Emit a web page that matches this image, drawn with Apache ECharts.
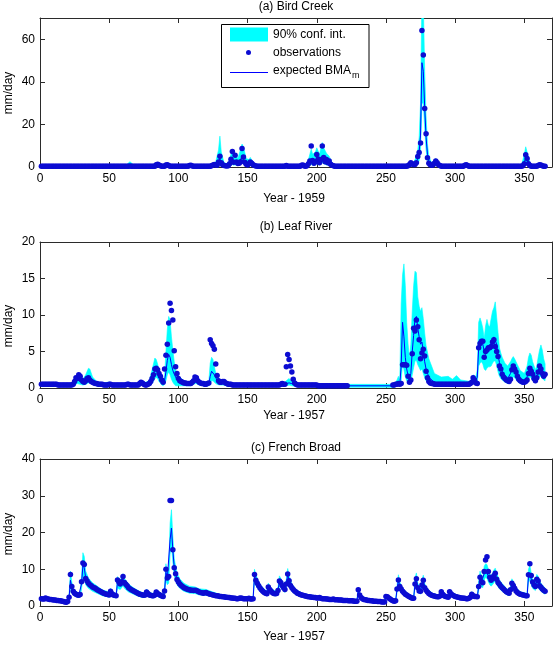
<!DOCTYPE html>
<html>
<head>
<meta charset="utf-8">
<title>BMA streamflow</title>
<script src="https://cdn.jsdelivr.net/npm/echarts/dist/echarts.min.js"></script>
<style>
  html, body { margin: 0; padding: 0; background: #fff; }
  #chart { width: 555px; height: 647px; }
</style>
</head>
<body>
<div id="chart"></div>
<script>
// daily observations, day 1..365 (mm/day)
var birdObs = [
  0.4,0.4,0.4,0.3,0.3,0.3,0.3,0.3,0.3,0.3,
  0.3,0.3,0.3,0.3,0.3,0.3,0.3,0.3,0.3,0.3,
  0.3,0.3,0.3,0.3,0.3,0.3,0.3,0.3,0.3,0.3,
  0.3,0.3,0.3,0.3,0.3,0.3,0.3,0.3,0.3,0.3,
  0.3,0.3,0.3,0.3,0.3,0.3,0.3,0.3,0.3,0.3,
  0.3,0.3,0.3,0.3,0.3,0.3,0.3,0.3,0.3,0.3,
  0.3,0.3,0.3,0.4,0.5,0.4,0.3,0.3,0.3,0.3,
  0.3,0.3,0.3,0.3,0.3,0.3,0.3,0.3,0.3,0.3,
  0.3,0.3,0.4,1.0,1.3,0.9,0.6,0.4,0.3,0.3,
  0.9,1.0,0.7,0.4,0.3,0.3,0.3,0.3,0.3,0.3,
  0.3,0.3,0.3,0.3,0.3,0.3,0.4,0.7,0.8,0.5,
  0.3,0.3,0.3,0.3,0.3,0.3,0.3,0.3,0.3,0.3,
  0.3,0.3,0.4,0.6,0.9,1.2,1.0,0.8,2.4,5.0,
  2.0,1.0,0.7,0.6,0.5,0.6,1.5,3.6,7.3,2.2,
  5.5,2.4,1.6,1.8,2.5,8.7,4.7,2.2,1.3,0.9,
  1.5,2.4,1.8,1.0,0.7,0.5,0.4,0.4,0.3,0.3,
  0.3,0.3,0.3,0.3,0.3,0.3,0.3,0.3,0.3,0.3,
  0.3,0.3,0.3,0.3,0.3,0.3,0.4,0.7,0.4,0.3,
  0.3,0.3,0.3,0.3,0.3,0.3,0.3,0.4,0.8,0.9,
  0.5,0.4,0.6,1.5,2.8,9.9,3.0,1.8,2.5,5.9,
  3.8,2.0,3.5,9.9,4.5,2.5,3.5,2.0,2.8,1.3,
  0.8,0.6,0.4,0.3,0.3,0.3,0.3,0.3,0.3,0.3,
  0.3,0.3,0.3,0.3,0.3,0.3,0.3,0.3,0.3,0.3,
  0.3,0.3,0.3,0.3,0.3,0.3,0.3,0.3,0.3,0.3,
  0.3,0.3,0.3,0.3,0.3,0.3,0.3,0.3,0.3,0.3,
  0.3,0.3,0.3,0.3,0.3,0.3,0.3,0.3,0.3,0.3,
  0.3,0.3,0.3,0.3,0.4,0.6,1.2,2.0,1.5,1.0,
  1.2,2.0,4.9,6.8,11.3,64.1,52.6,27.5,15.6,4.4,
  1.8,1.0,0.8,0.9,1.8,2.8,2.0,1.0,0.7,0.4,
  0.3,0.3,0.3,0.3,0.3,0.3,0.3,0.3,0.3,0.3,
  0.3,0.3,0.3,0.3,0.3,0.3,0.8,1.0,0.7,0.4,
  0.3,0.3,0.3,0.3,0.3,0.3,0.3,0.3,0.3,0.3,
  0.3,0.3,0.3,0.3,0.3,0.3,0.3,0.3,0.3,0.3,
  0.3,0.3,0.3,0.3,0.3,0.3,0.3,0.3,0.3,0.3,
  0.3,0.3,0.3,0.3,0.3,0.3,0.3,0.4,0.6,1.5,
  5.8,4.0,1.5,0.7,0.4,0.3,0.3,0.3,0.3,0.7,
  1.0,0.9,0.6,0.4,0.3
];

var leafObs = [
  0.5,0.5,0.5,0.5,0.5,0.5,0.5,0.5,0.5,0.5,
  0.5,0.5,0.4,0.4,0.4,0.4,0.4,0.4,0.4,0.4,
  0.4,0.4,0.4,0.5,0.9,1.4,1.3,1.8,1.6,1.1,
  0.9,0.8,1.0,1.3,1.4,1.1,0.9,0.8,0.7,0.6,
  0.6,0.5,0.5,0.5,0.5,0.4,0.4,0.4,0.4,0.5,
  0.5,0.4,0.4,0.4,0.4,0.4,0.4,0.4,0.4,0.4,
  0.4,0.4,0.5,0.5,0.4,0.4,0.4,0.4,0.4,0.4,
  0.4,0.6,0.8,0.7,0.5,0.4,0.4,0.5,0.6,0.9,
  1.3,1.8,2.6,2.7,2.5,2.0,1.6,1.1,0.8,2.6,
  4.5,6.0,8.9,11.6,10.6,9.3,5.1,2.9,2.0,1.3,
  1.0,0.9,0.8,0.7,0.7,0.6,0.6,0.6,0.6,0.8,
  1.0,1.5,1.4,1.0,0.8,0.7,0.6,0.6,0.5,0.5,
  0.6,0.7,6.6,6.1,5.8,5.3,3.3,1.7,1.0,0.8,
  0.8,0.9,0.9,0.7,0.6,0.5,0.5,0.5,0.4,0.4,
  0.4,0.4,0.4,0.4,0.4,0.4,0.4,0.4,0.4,0.4,
  0.4,0.4,0.4,0.4,0.4,0.4,0.4,0.4,0.4,0.4,
  0.4,0.4,0.4,0.4,0.4,0.4,0.4,0.4,0.4,0.4,
  0.4,0.4,0.4,0.5,0.6,0.5,0.5,2.9,4.6,3.9,
  3.0,2.2,1.2,0.7,0.5,0.4,0.4,0.4,0.4,0.4,
  0.4,0.4,0.4,0.4,0.4,0.4,0.4,0.4,0.4,0.4,
  0.3,0.3,0.3,0.3,0.3,0.3,0.3,0.3,0.3,0.3,
  0.3,0.3,0.3,0.3,0.3,0.3,0.3,0.3,0.3,0.3,
  0.3,0.3,null,null,null,null,null,null,null,null,
  null,null,null,null,null,null,null,null,null,null,
  null,null,null,null,null,null,null,null,null,null,
  null,null,null,null,0.4,0.4,0.5,0.5,0.6,0.5,
  0.6,3.2,3.2,3.2,3.1,1.6,0.8,1.1,4.7,8.2,
  7.8,9.3,8.4,6.6,4.0,4.8,5.3,4.4,2.3,1.4,
  0.9,0.7,0.6,0.6,0.5,0.5,0.5,0.5,0.5,0.5,
  0.5,0.5,0.5,0.5,0.5,0.5,0.5,0.5,0.5,0.5,
  0.5,0.5,0.5,0.5,0.5,0.5,0.5,0.5,0.5,0.5,
  0.6,0.8,1.4,1.1,0.7,0.6,5.5,6.1,6.4,6.4,
  4.2,5.0,5.2,5.5,5.5,5.7,6.3,6.6,5.7,5.0,
  4.3,3.0,2.6,1.9,1.5,1.3,1.1,1.0,0.9,1.2,
  2.5,3.0,2.6,2.2,1.6,1.2,1.0,0.9,0.8,0.8,
  0.9,1.1,2.0,2.7,2.3,1.9,1.3,1.0,1.4,2.2,
  3.0,2.6,2.0,1.6,1.9
];

var frenchObs = [
  2.0,1.9,1.9,2.2,2.0,1.9,1.8,1.8,1.7,1.6,
  1.6,1.5,1.5,1.4,1.4,1.3,1.2,1.1,1.0,1.2,
  2.4,8.6,5.3,4.0,3.5,3.2,3.0,2.9,3.1,6.6,
  11.7,11.3,7.5,6.8,6.2,5.8,5.5,5.2,5.0,4.8,
  4.5,4.3,4.1,3.9,3.7,3.5,3.3,3.2,3.1,3.0,
  4.0,3.3,3.0,2.9,2.8,7.1,6.5,6.0,6.6,8.0,
  6.4,5.9,5.5,5.0,4.7,4.4,4.2,4.0,3.8,3.6,
  3.4,3.2,3.1,3.0,2.9,3.0,3.8,3.4,3.0,2.9,
  2.8,2.8,3.0,3.8,3.4,3.1,2.9,2.7,2.6,4.1,
  10.0,7.6,8.0,28.7,28.7,15.3,10.4,8.8,7.2,6.5,
  6.0,5.6,5.3,5.0,4.8,4.6,4.5,4.4,4.3,4.3,
  4.2,4.3,4.2,4.0,3.8,3.7,3.6,3.5,3.6,3.7,
  3.5,3.3,3.2,3.1,3.0,2.9,2.8,2.8,2.7,2.6,
  2.6,2.5,2.5,2.4,2.4,2.3,2.3,2.2,2.2,2.1,
  2.1,2.0,2.0,2.1,2.2,2.1,2.0,2.0,2.0,2.0,
  2.1,1.9,1.9,2.0,8.6,7.0,6.2,5.5,4.9,4.4,
  4.0,3.7,3.5,3.3,5.2,4.5,4.0,3.6,3.4,3.3,
  3.4,4.2,6.8,6.4,5.6,5.0,4.5,6.0,8.7,6.9,
  5.6,5.0,4.5,4.1,3.8,3.5,3.3,3.1,3.0,2.9,
  2.8,2.7,2.6,2.5,2.5,2.4,2.4,2.3,2.3,2.2,
  2.2,2.3,2.1,2.0,2.0,2.0,1.9,1.9,1.8,1.8,
  1.8,1.9,1.7,1.7,1.7,1.6,1.6,1.6,1.5,1.5,
  1.5,1.5,1.4,1.4,1.4,1.4,1.3,1.3,1.3,4.4,
  3.0,2.3,2.0,1.8,1.7,1.6,1.5,1.5,1.4,1.4,
  1.3,1.3,1.3,1.2,1.2,1.2,1.1,1.1,1.1,2.6,
  2.5,2.2,1.9,1.6,1.4,1.3,1.4,4.6,7.1,5.3,
  4.6,4.0,3.6,3.2,3.0,2.7,2.5,2.3,2.1,2.1,
  6.0,7.4,5.0,4.1,4.0,5.7,7.0,5.0,4.3,3.8,
  3.4,3.1,2.9,2.8,2.7,2.6,2.5,2.5,2.7,3.9,
  3.2,2.8,2.6,2.5,2.4,3.9,3.3,3.0,2.8,2.6,
  2.5,2.4,2.3,2.2,2.2,2.1,2.1,2.0,2.0,2.1,
  2.4,3.2,2.8,2.6,2.6,2.5,5.3,7.8,6.6,6.3,
  9.4,12.5,13.4,9.4,7.8,7.0,7.5,8.2,8.9,7.3,
  6.4,5.9,5.4,5.0,4.6,4.2,3.9,3.7,3.5,4.4,
  6.2,5.6,4.8,4.1,3.7,3.4,3.2,3.1,3.0,2.9,
  2.8,2.8,8.5,11.5,8.3,6.5,5.7,5.3,7.3,6.8,
  5.5,5.1,4.6,4.3,4.0
];

// model rows: [day, lower 5%, expected BMA, upper 95%]
var birdModel = [
  [1,0,0.3,0.8],[62,0,0.3,0.8],[65,0.1,0.5,2.5],[68,0,0.3,0.8],[83,0,0.3,0.8],
  [85,0.3,1.0,2.0],[88,0,0.4,0.9],[125,0,0.4,1.0],[127,0.3,0.9,2.5],[129,0.8,2.5,8],
  [130,1.5,4.0,14.5],[131,0.8,2.0,7],[133,0.2,0.7,2],[136,0.2,0.6,1.5],[138,0.8,2.5,6],
  [139,1.2,3.5,7.5],[140,0.8,2.0,4.5],[141,1.0,2.8,6],[143,0.8,2.0,4],[145,1.5,3.5,8.5],
  [146,2.0,5.0,10.8],[147,1.5,3.5,9.5],[149,0.5,1.5,4],[151,0.6,1.8,3.5],[152,0.8,2.2,4.5],
  [154,0.3,1.0,2.0],[157,0,0.4,0.9],[193,0,0.4,0.9],[195,0.8,2.5,6],[196,1.2,3.5,8.5],
  [197,0.8,2.5,6],[199,1.0,3,7],[200,1.5,4,9],[202,1.0,2.8,6],[203,1.5,4,9],
  [204,2.0,5,11.5],[205,1.5,4,9],[207,1.0,2.8,6.5],[209,0.8,2.2,5],[211,0.2,0.8,2],
  [213,0,0.4,0.9],[266,0,0.4,0.9],[268,0.4,1.2,2.5],[270,0.3,0.9,2],[272,0.8,2.5,5],
  [273,1.5,4,8],[274,3,7,14],[275,8,15,30],[276,30,49,80],[277,30,45,78],
  [278,18,28,45],[279,8,14,24],[280,3,6,11],[281,1,2.5,5],[283,0.3,1,2],
  [285,0.5,1.5,3],[286,0.8,2.2,4],[288,0.2,0.7,1.5],[290,0,0.4,0.9],[348,0,0.4,0.9],
  [350,1,2.5,6],[351,1.5,4,9.5],[352,1.2,3,7],[354,0.2,0.8,2],[356,0,0.4,0.9],
  [365,0,0.4,0.9]
];

var leafModel = [
  [1,0.2,0.4,0.6],[23,0.2,0.4,0.6],[25,0.4,0.8,1.3],[27,0.6,1.1,1.7],[29,0.5,1.0,1.5],
  [31,0.4,0.8,1.2],[33,0.5,1.0,1.8],[35,0.7,1.3,2.7],[36,0.7,1.3,2.6],[38,0.5,0.9,1.5],
  [41,0.3,0.6,0.9],[45,0.2,0.5,0.7],[50,0.3,0.5,0.8],[52,0.2,0.4,0.6],[62,0.2,0.4,0.6],
  [64,0.3,0.5,0.8],[66,0.2,0.4,0.6],[71,0.2,0.4,0.6],[73,0.4,0.7,1.0],[75,0.3,0.5,0.7],
  [79,0.3,0.6,1.0],[81,0.6,1.3,2.5],[83,1.3,2.5,4.1],[84,1.4,2.6,3.9],[85,1.3,2.4,3.3],
  [86,0.9,1.8,2.4],[88,0.4,0.9,1.3],[89,0.3,0.7,1.0],[90,0.5,1.0,1.5],[91,1.0,2.2,5.0],
  [92,1.8,3.8,8.0],[93,2.2,4.6,9.8],[94,1.8,4.2,9.3],[95,1.2,3.2,7.0],[96,0.8,2.4,5.2],
  [97,0.5,1.9,3.6],[98,0.3,1.5,2.5],[99,0.3,1.2,2.0],[101,0.3,0.9,1.5],[104,0.3,0.7,1.0],
  [109,0.3,0.6,0.8],[111,0.5,1.0,1.3],[112,0.6,1.3,1.7],[113,0.6,1.2,1.6],[115,0.4,0.8,1.0],
  [118,0.3,0.6,0.8],[122,0.3,0.6,0.9],[123,0.7,1.6,3.4],[124,1.0,2.3,4.2],[125,1.0,2.2,3.9],
  [126,0.8,1.8,2.9],[127,0.6,1.4,2.1],[128,0.5,1.1,1.6],[130,0.4,0.8,1.2],[133,0.4,0.7,1.0],
  [136,0.2,0.5,0.7],[145,0.2,0.4,0.6],[176,0.2,0.4,0.6],[178,0.3,0.6,1.0],[180,0.4,0.7,1.3],
  [182,0.3,0.6,0.9],[185,0.2,0.4,0.6],[222,0.1,0.3,0.5],[256,0.1,0.3,0.5],[258,0.3,0.5,1.1],
  [259,0.4,0.7,1.6],[260,0.3,0.5,1.0],[261,1.0,3.0,11.5],[262,3.5,9.0,15.5],[263,2.5,7.0,17.0],
  [264,1.5,4.2,14.0],[265,1.0,2.6,9.0],[266,0.7,1.7,6.0],[267,0.6,1.3,4.0],[268,0.8,2.0,6.0],
  [269,1.8,5.0,10.5],[270,2.8,7.2,14.0],[271,3.7,9.5,16.0],[272,3.8,9.8,15.8],[273,3.2,8.2,12.5],
  [274,2.8,7.0,11.2],[275,2.4,6.0,10.5],[276,2.6,6.3,11.0],[277,2.0,5.0,9.5],[278,1.4,3.6,7.5],
  [279,1.0,2.6,5.8],[281,0.6,1.5,4.0],[283,0.4,1.1,3.0],[285,0.3,0.8,2.0],[290,0.3,0.6,1.5],
  [295,0.3,0.6,1.6],[298,0.3,0.5,1.2],[301,0.3,0.6,1.7],[304,0.3,0.5,1.1],[311,0.3,0.5,0.9],
  [313,0.6,1.2,1.8],[315,0.5,1.0,1.5],[316,0.6,1.5,2.5],[317,3.0,5.5,9.0],[318,3.4,6.0,9.6],
  [319,3.6,6.3,9.0],[320,3.3,6.0,8.2],[321,2.6,5.0,6.8],[322,2.4,4.6,8.5],[323,2.7,5.0,9.4],
  [324,2.9,5.5,8.6],[325,2.9,5.5,8.4],[326,3.0,5.8,9.5],[327,3.4,6.5,10.5],[328,3.7,7.0,11.0],
  [329,3.7,7.0,11.8],[330,3.1,6.0,9.7],[331,2.2,4.5,7.6],[332,1.6,3.5,5.5],[333,1.3,2.8,4.8],
  [334,1.1,2.3,4.2],[336,0.8,1.6,3.4],[338,0.6,1.3,3.0],[340,1.0,2.0,3.6],[341,1.4,2.6,4.0],
  [342,1.5,2.8,4.3],[343,1.4,2.5,4.0],[345,0.9,1.6,3.2],[347,0.6,1.1,2.4],[350,0.5,0.9,2.0],
  [352,0.8,1.5,3.0],[353,1.3,2.4,4.2],[354,1.5,2.8,4.8],[355,1.4,2.5,4.5],[356,1.0,1.8,3.6],
  [358,0.7,1.3,2.5],[359,0.9,1.6,3.0],[360,1.2,2.3,4.2],[361,1.5,2.8,5.2],[362,1.6,2.9,5.9],
  [363,1.3,2.4,5.2],[364,1.1,2.0,4.0],[365,1.0,1.8,3.3]
];

var frenchModel = [
  [1,1.5,1.9,2.3],[5,1.5,1.9,2.3],[10,1.2,1.6,2.0],[15,1.0,1.3,1.7],[19,0.9,1.1,1.5],
  [20,1.0,1.3,1.8],[21,1.6,2.3,3.2],[22,5.0,7.0,9.5],[23,3.8,5.0,6.5],[24,3.0,3.9,4.8],
  [26,2.5,3.2,3.9],[28,2.3,2.9,3.6],[29,2.4,3.0,3.7],[30,4.5,6.0,8.0],[31,8.0,11.0,14.5],
  [32,7.8,10.4,13.5],[33,5.8,7.6,9.5],[35,4.8,6.2,7.6],[38,4.0,5.1,6.3],[41,3.5,4.5,5.5],
  [45,2.8,3.6,4.4],[50,2.4,3.0,3.8],[51,3.0,3.8,4.8],[53,2.3,3.0,3.6],[55,2.2,2.8,3.4],
  [56,4.8,6.5,8.0],[58,4.5,5.8,7.0],[60,5.5,7.3,8.8],[61,4.8,6.2,7.5],[64,3.8,4.9,6.0],
  [67,3.3,4.2,5.1],[70,2.8,3.6,4.4],[74,2.3,3.0,3.6],[76,2.4,3.0,3.7],[77,2.9,3.7,4.6],
  [79,2.4,3.0,3.7],[82,2.2,2.8,3.4],[84,2.8,3.6,4.4],[86,2.4,3.1,3.8],[89,2.0,2.6,3.2],
  [90,3.0,4.0,5.2],[91,7.0,9.2,11.5],[92,5.8,7.5,9.2],[93,6.2,8.0,10.0],[94,14.0,18.0,22.5],
  [95,16.5,21.2,26.2],[96,12.0,15.3,19.0],[97,8.3,10.5,13.0],[98,7.0,8.8,10.8],[99,5.8,7.3,9.0],
  [101,4.8,6.0,7.4],[104,4.0,5.0,6.2],[108,3.5,4.4,5.4],[112,3.4,4.3,5.2],[115,3.0,3.8,4.7],
  [120,2.9,3.6,4.5],[125,2.5,3.1,3.8],[130,2.1,2.6,3.2],[140,1.7,2.1,2.6],[150,1.6,2.0,2.5],
  [154,1.6,2.0,2.5],[155,6.5,8.2,10.0],[156,5.6,7.0,8.5],[158,4.4,5.5,6.7],[160,3.6,4.4,5.4],
  [163,2.9,3.5,4.3],[164,2.7,3.3,4.1],[165,4.0,5.0,6.2],[167,3.2,4.0,4.9],[170,2.7,3.3,4.0],
  [172,3.4,4.2,5.2],[173,5.4,6.7,8.2],[175,4.5,5.6,6.8],[177,3.7,4.5,5.5],[178,4.8,6.0,7.3],
  [179,7.0,8.6,10.2],[180,5.6,6.9,8.3],[182,4.0,5.0,6.0],[185,3.0,3.7,4.5],[190,2.3,2.8,3.4],
  [200,1.8,2.2,2.7],[210,1.5,1.8,2.2],[220,1.2,1.5,1.9],[229,1.0,1.3,1.7],[230,3.4,4.2,5.1],
  [231,2.4,3.0,3.7],[233,1.6,2.0,2.5],[240,1.1,1.4,1.8],[249,0.9,1.1,1.5],[250,2.0,2.5,3.1],
  [252,1.7,2.1,2.6],[255,1.1,1.4,1.8],[257,1.1,1.4,1.8],[258,3.6,4.5,5.6],[259,5.6,7.0,8.5],
  [260,4.2,5.3,6.5],[262,3.2,4.0,4.9],[265,2.4,3.0,3.7],[268,1.8,2.3,2.8],[270,1.7,2.1,2.6],
  [271,4.8,6.0,7.6],[272,5.8,7.2,9.0],[273,4.0,5.0,6.2],[275,3.2,4.0,4.9],[276,4.6,5.7,7.0],
  [277,5.6,6.9,8.4],[278,4.0,5.0,6.1],[280,3.1,3.8,4.6],[284,2.3,2.8,3.4],[288,2.0,2.5,3.0],
  [289,2.2,2.7,3.3],[290,3.1,3.8,4.6],[292,2.3,2.8,3.4],[295,2.0,2.4,2.9],[296,3.1,3.8,4.6],
  [298,2.5,3.0,3.6],[302,2.0,2.4,2.9],[308,1.6,2.0,2.4],[310,1.7,2.1,2.5],[312,2.6,3.2,3.9],
  [314,2.1,2.6,3.2],[316,2.0,2.5,3.0],[317,4.2,5.2,6.6],[318,6.0,7.5,9.5],[319,5.2,6.5,8.3],
  [320,5.0,6.2,7.8],[321,7.0,8.8,10.8],[322,7.8,9.5,11.5],[323,7.5,9.4,11.3],[324,6.6,8.2,10.0],
  [325,5.8,7.2,8.8],[326,5.4,6.7,8.2],[327,5.8,7.2,8.8],[328,6.3,7.8,9.8],[329,6.8,8.4,10.3],
  [330,5.8,7.2,8.9],[332,4.7,5.8,7.1],[334,4.0,5.0,6.1],[337,3.1,3.9,4.8],[339,2.8,3.5,4.3],
  [340,3.5,4.3,5.3],[341,4.8,6.0,7.4],[342,4.4,5.5,6.7],[344,3.3,4.1,5.0],[347,2.6,3.2,3.9],
  [352,2.2,2.8,3.4],[353,6.5,8.0,10.0],[354,7.0,8.8,11.0],[355,5.8,7.3,9.0],[356,4.8,6.0,7.4],
  [358,4.2,5.2,6.4],[359,5.6,7.0,8.6],[360,5.3,6.6,8.1],[361,4.4,5.5,6.8],[363,3.7,4.6,5.7],
  [365,3.2,4.0,4.9]
];

var panelTitles = ['(a) Bird Creek', '(b) Leaf River', '(c) French Broad'];
var xNames = ['Year - 1959', 'Year - 1957', 'Year - 1957'];
var yMaxes = [70, 20, 40];
var ySteps = [20, 5, 10];
var legendNames = ['90% conf. int.', 'observations', 'expected BMA'];

var chart = echarts.init(document.getElementById('chart'));

var FONT = 'Liberation Sans, Arial, Helvetica, sans-serif';
var AXIS_COLOR = '#2b2b2b';
var CYAN = '#00ffff', DOT = '#0c0cd2', LINE = '#0000ff';

// layout of the three panels
var panels = [
  { obs: birdObs, model: birdModel, top: 18, height: 149, titleY: 7, nameY: 199, yLabY: 93 },
  { obs: leafObs, model: leafModel, top: 242, height: 146, titleY: 227, nameY: 416, yLabY: 326 },
  { obs: frenchObs, model: frenchModel, top: 459, height: 147, titleY: 448, nameY: 637, yLabY: 534 }
];

function bandItem(model) {
  return function (params, api) {
    if (params.dataIndex !== 0) return;
    var pts = [];
    for (var i = 0; i < model.length; i++) pts.push(api.coord([model[i][0], model[i][3]]));
    for (var j = model.length - 1; j >= 0; j--) pts.push(api.coord([model[j][0], model[j][1]]));
    return {
      type: 'polygon',
      shape: { points: pts },
      style: { fill: CYAN, stroke: CYAN, lineWidth: 0.6 }
    };
  };
}

var grids = [], xAxes = [], yAxes = [], series = [], graphics = [];
var lineStyle = { color: AXIS_COLOR, width: 1 };

panels.forEach(function (p, i) {
  var yMax = yMaxes[i], yStep = ySteps[i];
  grids.push({ left: 40, width: 512, top: p.top, height: p.height, containLabel: false, outerBoundsMode: 'none' });

  var xBase = {
    gridIndex: i, type: 'value', min: 0, max: 370, interval: 50,
    axisLine: { show: true, onZero: false, lineStyle: lineStyle },
    axisTick: { show: true, inside: true, length: 5, lineStyle: lineStyle },
    splitLine: { show: false }
  };
  xAxes.push(Object.assign({}, xBase, {
    position: 'bottom',
    axisLabel: {
      show: true, margin: 6, color: '#000', fontFamily: FONT, fontSize: 12,
      formatter: function (v) { return v % 50 === 0 ? String(v) : ''; }
    }
  }));
  xAxes.push(Object.assign({}, xBase, { position: 'top', axisLabel: { show: false } }));

  var yBase = {
    gridIndex: i, type: 'value', min: 0, max: yMax, interval: yStep,
    axisLine: { show: true, onZero: false, lineStyle: lineStyle },
    axisTick: { show: true, inside: true, length: 5, lineStyle: lineStyle },
    splitLine: { show: false }
  };
  yAxes.push(Object.assign({}, yBase, {
    position: 'left',
    axisLabel: {
      show: true, margin: 5, color: '#000', fontFamily: FONT, fontSize: 12,
      formatter: function (v) { return v % yStep === 0 ? String(v) : ''; }
    }
  }));
  yAxes.push(Object.assign({}, yBase, { position: 'right', axisLabel: { show: false } }));

  var obsPts = [];
  p.obs.forEach(function (v, k) { if (v !== null) obsPts.push([k + 1, v]); });

  series.push({
    type: 'custom', name: legendNames[0], xAxisIndex: 2 * i, yAxisIndex: 2 * i,
    data: p.model, encode: { x: 0, y: [1, 3] }, renderItem: bandItem(p.model),
    clip: true, silent: true, z: 1
  });
  series.push({
    type: 'line', name: legendNames[2], xAxisIndex: 2 * i, yAxisIndex: 2 * i,
    data: p.model.map(function (r) { return [r[0], r[2]]; }),
    showSymbol: false, symbol: 'none', clip: true, silent: true,
    lineStyle: { color: LINE, width: 1 }, z: 2
  });
  series.push({
    type: 'scatter', name: legendNames[1], xAxisIndex: 2 * i, yAxisIndex: 2 * i,
    data: obsPts, symbol: 'circle', symbolSize: 5.5,
    itemStyle: { color: DOT, opacity: 1 }, clip: true, silent: true, z: 3
  });

  graphics.push({
    type: 'text', x: 296, y: p.titleY, z: 50,
    style: { text: panelTitles[i], font: '12px ' + FONT, fill: '#000', textAlign: 'center', textVerticalAlign: 'middle' }
  });
  graphics.push({
    type: 'text', x: 294, y: p.nameY, z: 50,
    style: { text: xNames[i], font: '12px ' + FONT, fill: '#000', textAlign: 'center', textVerticalAlign: 'middle' }
  });
  graphics.push({
    type: 'text', x: 9, y: p.yLabY, rotation: Math.PI / 2, z: 50,
    style: { text: 'mm/day', font: '12px ' + FONT, fill: '#000', textAlign: 'center', textVerticalAlign: 'middle' }
  });
});

// legend box inside panel (a)
graphics.push({
  type: 'rect', z: 60, shape: { x: 221.5, y: 24.5, width: 147.5, height: 63 },
  style: { fill: '#fff', stroke: '#000', lineWidth: 1 }
});
graphics.push({ type: 'rect', z: 61, shape: { x: 230, y: 27.5, width: 38, height: 14 }, style: { fill: CYAN } });
graphics.push({ type: 'circle', z: 61, shape: { cx: 248.5, cy: 52.5, r: 2.5 }, style: { fill: DOT } });
graphics.push({ type: 'line', z: 61, shape: { x1: 230, y1: 72.5, x2: 268, y2: 72.5 }, style: { stroke: LINE, lineWidth: 1 } });
graphics.push({ type: 'text', z: 61, x: 273, y: 35, style: { text: legendNames[0], font: '12px ' + FONT, fill: '#000', textVerticalAlign: 'middle' } });
graphics.push({ type: 'text', z: 61, x: 273, y: 53, style: { text: legendNames[1], font: '12px ' + FONT, fill: '#000', textVerticalAlign: 'middle' } });
graphics.push({ type: 'text', z: 61, x: 273, y: 71, style: { text: legendNames[2], font: '12px ' + FONT, fill: '#000', textVerticalAlign: 'middle' } });
graphics.push({ type: 'text', z: 61, x: 352, y: 76, style: { text: 'm', font: '9px ' + FONT, fill: '#000', textVerticalAlign: 'middle' } });

chart.setOption({
  animation: false,
  backgroundColor: '#fff',
  grid: grids,
  xAxis: xAxes,
  yAxis: yAxes,
  series: series,
  graphic: graphics
});
</script>
</body>
</html>
